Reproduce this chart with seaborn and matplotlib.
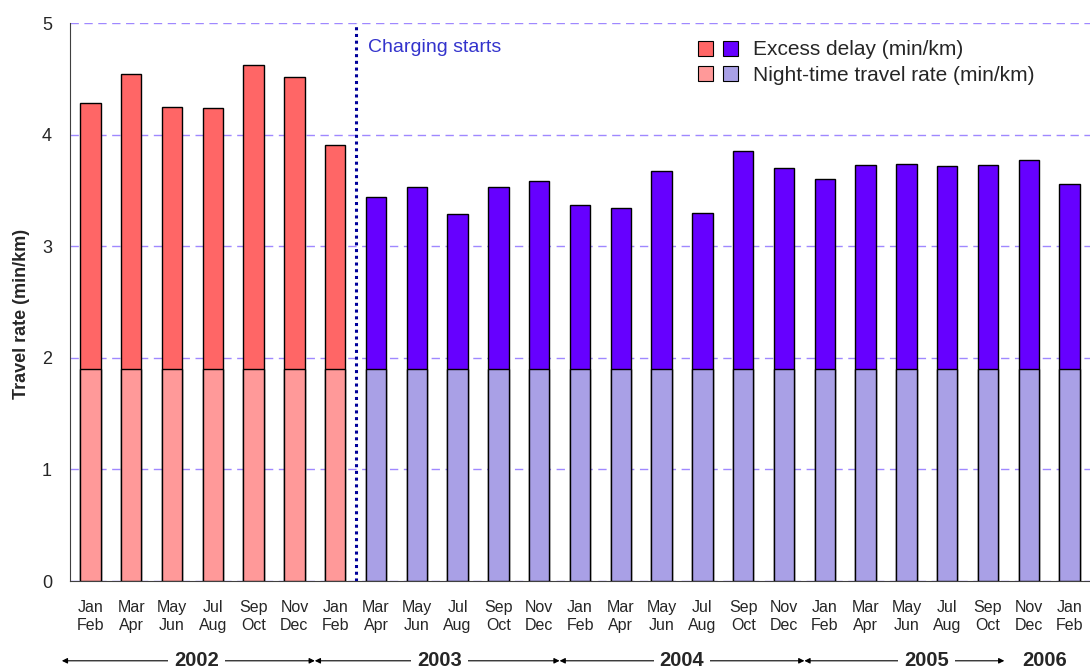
import numpy as np
import pandas as pd
import matplotlib.pyplot as plt
import seaborn as sns
from matplotlib.patches import Patch
from matplotlib.legend_handler import HandlerTuple
import matplotlib.transforms as mtransforms

# Data
months = ["Jan\nFeb", "Mar\nApr", "May\nJun", "Jul\nAug", "Sep\nOct", "Nov\nDec"]
periods = months * 4 + ["Jan\nFeb"]
total_rate = [4.28, 4.54, 4.25, 4.24, 4.62, 4.52, 3.91,
              3.44, 3.53, 3.29, 3.53, 3.58, 3.37, 3.34, 3.67, 3.30,
              3.85, 3.70, 3.60, 3.73, 3.74, 3.72, 3.73, 3.77, 3.56]
night_rate = [1.9] * 25
phase = ["before"] * 7 + ["after"] * 18
years = ["2002", "2003", "2004", "2005", "2006"]
year_spans = [(-0.7, 5.5), (5.5, 11.5), (11.5, 17.5), (17.5, 22.4), None]
year_pos = [2.6, 8.55, 14.5, 20.5, 23.4]

df = pd.DataFrame({"idx": np.arange(len(periods)), "total": total_rate,
                   "night": night_rate, "phase": phase})

excess_pal = {"before": "#FF6666", "after": "#6600FF"}
night_pal = {"before": "#FF9999", "after": "#A9A0E6"}

sns.set_style("white")
plt.rcParams["font.family"] = ["Liberation Sans", "DejaVu Sans"]

fig = plt.figure(figsize=(10.9, 6.71), dpi=100)
ax = fig.add_axes([70 / 1090, 90 / 671, 1 - 70 / 1090, 558 / 671])

# stacked bars: total first, night-time rate on top of it
sns.barplot(data=df, x="idx", y="total", hue="phase", palette=excess_pal,
            dodge=False, width=0.5, saturation=1, edgecolor="black", linewidth=1,
            legend=False, ax=ax, zorder=3)
sns.barplot(data=df, x="idx", y="night", hue="phase", palette=night_pal,
            dodge=False, width=0.5, saturation=1, edgecolor="black", linewidth=1,
            legend=False, ax=ax, zorder=3)

ax.set_xlim(-0.5, 24.3)
ax.set_ylim(0, 5)
ax.set_yticks(range(6))
ax.set_yticklabels([str(v) for v in range(6)], fontsize=13)
ax.yaxis.grid(True, linestyle=(0, (6, 4)), color="#9F88FF", linewidth=1)
ax.set_axisbelow(True)

ax.set_xticks(range(len(periods)))
ax.set_xticklabels(periods, fontsize=11.5, linespacing=1.2)
ax.set_xticks(np.arange(-0.5, len(periods), 1), minor=True)
ax.tick_params(axis="x", which="major", length=0, pad=14)
ax.tick_params(axis="x", which="minor", length=5, direction="out", color="#404040")
ax.tick_params(axis="y", length=5, direction="out", color="#404040", pad=8)
ax.set_xlabel("")
ax.set_ylabel("Travel rate (min/km)", fontsize=13, fontweight="bold")
ax.yaxis.set_label_coords(-0.039, 0.478)

for s in ["top", "right"]:
    ax.spines[s].set_visible(False)
for s in ["left", "bottom"]:
    ax.spines[s].set_color("#404040")

# charging start marker
ax.axvline(6.5, color="#000099", linestyle=(0, (1, 1.2)), linewidth=2.2, zorder=4)
ax.text(6.8, 4.78, "Charging starts", color="#3333CC", fontsize=14, va="center")

# year ranges under the month labels
trans = mtransforms.blended_transform_factory(ax.transData, ax.transAxes)
yy = -0.143
for yr, span, xc in zip(years, year_spans, year_pos):
    if span is not None:
        ax.annotate("", xy=(span[1], yy), xytext=(span[0], yy), xycoords=trans,
                    textcoords=trans, annotation_clip=False,
                    arrowprops=dict(arrowstyle="<|-|>", color="black", lw=0.8,
                                    mutation_scale=8, shrinkA=0, shrinkB=0))
    ax.text(xc, yy, yr, transform=trans, ha="center", va="center",
            fontsize=14.5, fontweight="bold",
            bbox=dict(boxstyle="square,pad=0.3", fc="white", ec="none"))

handles = [(Patch(fc="#FF6666", ec="black", lw=0.8), Patch(fc="#6600FF", ec="black", lw=0.8)),
           (Patch(fc="#FF9999", ec="black", lw=0.8), Patch(fc="#A9A0E6", ec="black", lw=0.8))]
fig.legend(handles, ["Excess delay (min/km)", "Night-time travel rate (min/km)"],
           handler_map={tuple: HandlerTuple(ndivide=None, pad=0.48)},
           loc="upper right", bbox_to_anchor=(1045 / 1090, 1 - 30 / 671),
           frameon=False, fontsize=15, handlelength=1.92, handleheight=0.72,
           handletextpad=0.72, labelspacing=0.3, borderpad=0)

fig.savefig("out.png", dpi=100)
